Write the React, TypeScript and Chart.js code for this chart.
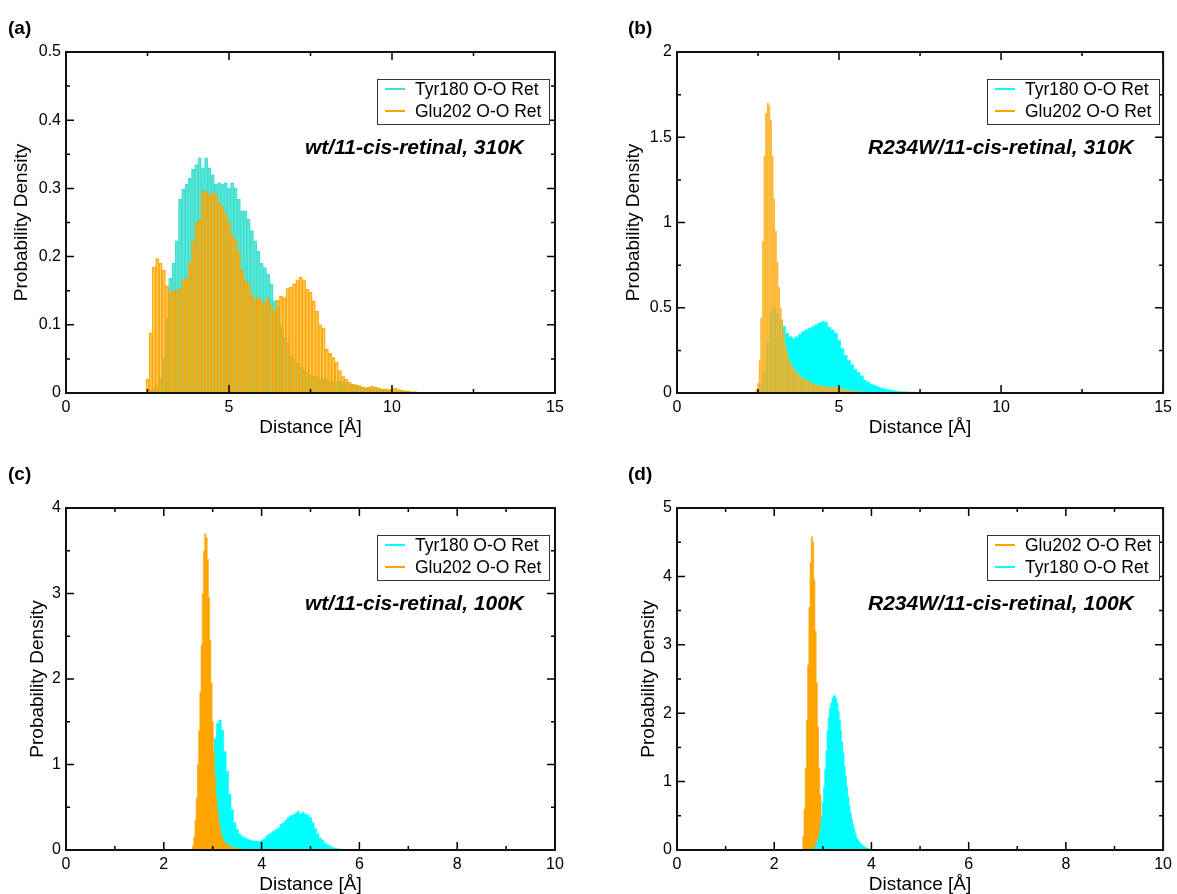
import React, { useEffect, useRef } from "react";
import { Chart, registerables } from "chart.js";

Chart.register(...registerables);

const FONT = '"Liberation Sans", Arial, Helvetica, sans-serif';
const TURQ = "#40E0D0";
const CYAN = "#00FFFF";
const ORANGE = "#FFA500";

const TYR = "Tyr180 O-O Ret";
const GLU = "Glu202 O-O Ret";
const X_TITLE = "Distance [Å]";
const Y_TITLE = "Probability Density";

// ---------- Panel (a): wt/11-cis-retinal, 310K (bins of 0.1 Å) ----------
const aTyrStart = 2.5;
const aTyrStep = 0.1;
const aTyr = [
  0.002, 0.004, 0.007, 0.012, 0.022, 0.05, 0.11, 0.168, 0.19, 0.223,
  0.284, 0.299, 0.306, 0.315, 0.328, 0.335, 0.345, 0.33, 0.345, 0.33,
  0.32, 0.306, 0.308, 0.306, 0.308, 0.301, 0.308, 0.301, 0.284, 0.267,
  0.267, 0.255, 0.238, 0.223, 0.208, 0.19, 0.184, 0.174, 0.16, 0.135,
  0.127, 0.1, 0.08, 0.073, 0.055, 0.05, 0.044, 0.038, 0.034, 0.03,
  0.026, 0.024, 0.024, 0.022, 0.022, 0.02, 0.018, 0.017, 0.016, 0.017,
  0.016, 0.014, 0.012, 0.012, 0.011, 0.01, 0.008, 0.007, 0.007, 0.006,
  0.005, 0.005, 0.004, 0.004, 0.004, 0.003, 0.002, 0.002, 0.002, 0.002,
  0.002, 0.001, 0.001, 0.001, 0.001, 0.001,
];
const aGluStart = 2.5;
const aGluStep = 0.1;
const aGlu = [
  0.02, 0.088, 0.185, 0.197, 0.19, 0.18, 0.157, 0.147, 0.15, 0.15,
  0.152, 0.166, 0.168, 0.19, 0.222, 0.25, 0.254, 0.296, 0.294, 0.291,
  0.293, 0.291, 0.279, 0.273, 0.263, 0.25, 0.232, 0.225, 0.207, 0.18,
  0.165, 0.16, 0.145, 0.137, 0.14, 0.136, 0.132, 0.138, 0.128, 0.12,
  0.136, 0.142, 0.14, 0.153, 0.155, 0.16, 0.166, 0.17, 0.166, 0.152,
  0.148, 0.135, 0.12, 0.1, 0.095, 0.064, 0.058, 0.052, 0.045, 0.033,
  0.024, 0.02, 0.016, 0.013, 0.012, 0.011, 0.009, 0.008, 0.009, 0.01,
  0.009, 0.007, 0.006, 0.006, 0.005, 0.006, 0.007, 0.005, 0.004, 0.003,
  0.003, 0.002, 0.002, 0.001, 0.001, 0.001, 0.001, 0.001,
];

// ---------- Panel (b): R234W/11-cis-retinal, 310K ----------
const bTyrStart = 2.5;
const bTyrStep = 0.1;
const bTyr = [
  0.01, 0.05, 0.12, 0.3, 0.47, 0.5, 0.47, 0.43, 0.39, 0.35,
  0.33, 0.32, 0.33, 0.345, 0.36, 0.37, 0.38, 0.39, 0.4, 0.41,
  0.42, 0.415, 0.385, 0.37, 0.35, 0.31, 0.26, 0.22, 0.19, 0.165,
  0.14, 0.12, 0.1, 0.075, 0.065, 0.05, 0.045, 0.037, 0.03, 0.025,
  0.02, 0.017, 0.013, 0.01, 0.008, 0.007, 0.006, 0.005, 0.004, 0.004,
  0.003, 0.002, 0.002, 0.001,
];
const bGluStart = 2.45;
const bGluStep = 0.05;
const bGlu = [
  0.02, 0.06, 0.19, 0.44, 0.89, 1.39, 1.64, 1.7, 1.69, 1.6,
  1.39, 1.14, 0.95, 0.77, 0.62, 0.5, 0.43, 0.35, 0.28, 0.24,
  0.2, 0.18, 0.16, 0.145, 0.13, 0.12, 0.11, 0.1, 0.09, 0.085,
  0.08, 0.075, 0.07, 0.065, 0.06, 0.055, 0.05, 0.05, 0.045, 0.045,
  0.04, 0.04, 0.04, 0.038, 0.036, 0.035, 0.035, 0.034, 0.033, 0.035,
  0.033, 0.03, 0.028, 0.025, 0.022, 0.02, 0.018, 0.016, 0.015, 0.013,
  0.012, 0.011, 0.01, 0.009, 0.008, 0.007, 0.006, 0.005, 0.005, 0.004,
  0.004, 0.003,
];

// ---------- Panel (c): wt/11-cis-retinal, 100K ----------
const cTyrStart = 2.7;
const cTyrStep = 0.05;
const cTyr = [
  0.03, 0.08, 0.18, 0.32, 0.52, 0.78, 1.05, 1.3, 1.48, 1.52,
  1.4, 1.15, 0.92, 0.65, 0.47, 0.32, 0.24, 0.19, 0.16, 0.145,
  0.13, 0.12, 0.11, 0.105, 0.105, 0.1, 0.11, 0.13, 0.16, 0.18,
  0.2, 0.22, 0.24, 0.26, 0.3, 0.32, 0.35, 0.38, 0.4, 0.41,
  0.43, 0.45, 0.42, 0.44, 0.42, 0.41, 0.38, 0.32, 0.25, 0.19,
  0.14, 0.11, 0.08, 0.06, 0.045, 0.03, 0.022, 0.015, 0.01, 0.005,
  0.002,
];
const cGluStart = 2.575;
const cGluStep = 0.025;
const cGlu = [
  0.01, 0.05, 0.15, 0.35, 0.6, 1.0, 1.4, 1.85, 2.4, 3.0,
  3.5, 3.7, 3.65, 3.4, 2.95, 2.45, 1.95, 1.5, 1.15, 0.85,
  0.62, 0.46, 0.34, 0.25, 0.19, 0.14, 0.11, 0.09, 0.07, 0.06,
  0.05, 0.045, 0.04, 0.035, 0.03, 0.025, 0.02, 0.018, 0.015, 0.012,
  0.01, 0.008, 0.006, 0.004, 0.003, 0.002,
];

// ---------- Panel (d): R234W/11-cis-retinal, 100K ----------
const dGluStart = 2.575;
const dGluStep = 0.025;
const dGlu = [
  0.02, 0.2, 0.6, 1.2, 1.9, 2.7, 3.55, 4.2, 4.58, 4.5,
  3.95, 3.2, 2.45, 1.8, 1.2, 0.8, 0.5, 0.28, 0.15, 0.09,
  0.05, 0.03, 0.02, 0.01, 0.005,
];
const dTyrStart = 2.8;
const dTyrStep = 0.025;
const dTyr = [
  0.01, 0.03, 0.06, 0.1, 0.15, 0.22, 0.32, 0.48, 0.7, 0.92,
  1.17, 1.45, 1.75, 1.95, 2.07, 2.15, 2.22, 2.25, 2.26, 2.22,
  2.15, 2.03, 1.9, 1.75, 1.58, 1.42, 1.22, 1.08, 0.92, 0.78,
  0.65, 0.54, 0.45, 0.37, 0.3, 0.24, 0.18, 0.15, 0.12, 0.1,
  0.08, 0.065, 0.05, 0.04, 0.03, 0.022, 0.016, 0.012, 0.008, 0.005,
  0.003,
];

// ---------- Axis tick settings ----------
const xTicksWide = { max: 15, major: 5, minor: 2.5 };
const xTicksNarrow = { max: 10, major: 2, minor: 1 };

interface Series {
  label: string;
  start: number;
  step: number;
  values: number[];
  fill: string;
  stroke: string;
  border: number;
  legendColor: string;
  solid: boolean; // drawn as filled step outline (no individual bar edges)
}

interface PanelDef {
  tag: string;
  note: string;
  area: { l: number; t: number; r: number; b: number };
  canvas: { x: number; y: number; w: number; h: number };
  xMax: number;
  xMajor: number;
  xMinor: number;
  yMax: number;
  yMajor: number;
  yMinor: number;
  yTitleX: number;
  xTitleY: number;
  tagPos: { x: number; y: number };
  noteX: number;
  baseline?: string;
  series: Series[];
}

const PANELS: PanelDef[] = [
  {
    tag: "(a)",
    note: "wt/11-cis-retinal, 310K",
    area: { l: 66, t: 52, r: 555, b: 393 },
    canvas: { x: 0, y: 30, w: 600, h: 420 },
    xMax: xTicksWide.max, xMajor: xTicksWide.major, xMinor: xTicksWide.minor,
    yMax: 0.5, yMajor: 0.1, yMinor: 0.05,
    yTitleX: 22, xTitleY: 428,
    tagPos: { x: 8, y: 28 },
    noteX: 305,
    baseline: TURQ,
    series: [
      { label: TYR, start: aTyrStart, step: aTyrStep, values: aTyr, fill: "rgba(64,224,208,0.82)", stroke: TURQ, border: 0.7, legendColor: TURQ, solid: false },
      { label: GLU, start: aGluStart, step: aGluStep, values: aGlu, fill: "rgba(255,165,0,0.55)", stroke: "rgba(255,165,0,0.95)", border: 0.7, legendColor: ORANGE, solid: false },
    ],
  },
  {
    tag: "(b)",
    note: "R234W/11-cis-retinal, 310K",
    area: { l: 677, t: 52, r: 1165, b: 393 },
    canvas: { x: 600, y: 30, w: 577, h: 420 },
    xMax: xTicksWide.max, xMajor: xTicksWide.major, xMinor: xTicksWide.minor,
    yMax: 2, yMajor: 0.5, yMinor: 0.25,
    yTitleX: 634, xTitleY: 428,
    tagPos: { x: 628, y: 28 },
    noteX: 868,
    baseline: CYAN,
    series: [
      { label: TYR, start: bTyrStart, step: bTyrStep, values: bTyr, fill: CYAN, stroke: CYAN, border: 0, legendColor: CYAN, solid: true },
      { label: GLU, start: bGluStart, step: bGluStep, values: bGlu, fill: "rgba(255,165,0,0.72)", stroke: "rgba(255,200,100,0.6)", border: 0.3, legendColor: ORANGE, solid: false },
    ],
  },
  {
    tag: "(c)",
    note: "wt/11-cis-retinal, 100K",
    area: { l: 66, t: 508, r: 555, b: 850 },
    canvas: { x: 0, y: 460, w: 600, h: 450 },
    xMax: xTicksNarrow.max, xMajor: xTicksNarrow.major, xMinor: xTicksNarrow.minor,
    yMax: 4, yMajor: 1, yMinor: 0.5,
    yTitleX: 38, xTitleY: 885,
    tagPos: { x: 8, y: 474 },
    noteX: 305,
    series: [
      { label: TYR, start: cTyrStart, step: cTyrStep, values: cTyr, fill: CYAN, stroke: CYAN, border: 0, legendColor: CYAN, solid: true },
      { label: GLU, start: cGluStart, step: cGluStep, values: cGlu, fill: ORANGE, stroke: ORANGE, border: 0, legendColor: ORANGE, solid: true },
    ],
  },
  {
    tag: "(d)",
    note: "R234W/11-cis-retinal, 100K",
    area: { l: 677, t: 508, r: 1165, b: 850 },
    canvas: { x: 600, y: 460, w: 577, h: 450 },
    xMax: xTicksNarrow.max, xMajor: xTicksNarrow.major, xMinor: xTicksNarrow.minor,
    yMax: 5, yMajor: 1, yMinor: 0.5,
    yTitleX: 649, xTitleY: 885,
    tagPos: { x: 628, y: 474 },
    noteX: 868,
    series: [
      { label: GLU, start: dGluStart, step: dGluStep, values: dGlu, fill: ORANGE, stroke: ORANGE, border: 0, legendColor: ORANGE, solid: true },
      { label: TYR, start: dTyrStart, step: dTyrStep, values: dTyr, fill: CYAN, stroke: CYAN, border: 0, legendColor: CYAN, solid: true },
    ],
  },
];

function fmt(v: any): string {
  return String(Number(Number(v).toFixed(3)));
}

const framePlugin = {
  id: "frameTicks",
  afterDatasetsDraw(chart: any, _args: any, opts: any) {
    const { ctx, chartArea: a } = chart;
    const xs = chart.scales.x;
    const ys = chart.scales.y;
    const isMajor = (v: number, major: number) =>
      Math.abs(v / major - Math.round(v / major)) < 1e-6;
    ctx.save();
    ctx.strokeStyle = "#000";
    ctx.lineWidth = 1.5;
    ctx.beginPath();
    const nx = Math.round(opts.xMax / opts.xMinor);
    for (let i = 0; i <= nx; i++) {
      const v = i * opts.xMinor;
      const len = isMajor(v, opts.xMajor) ? 8 : 4;
      const px = xs.getPixelForValue(v);
      ctx.moveTo(px, a.bottom);
      ctx.lineTo(px, a.bottom - len);
      ctx.moveTo(px, a.top);
      ctx.lineTo(px, a.top + len);
    }
    const ny = Math.round(opts.yMax / opts.yMinor);
    for (let i = 0; i <= ny; i++) {
      const v = i * opts.yMinor;
      const len = isMajor(v, opts.yMajor) ? 8 : 4;
      const py = ys.getPixelForValue(v);
      ctx.moveTo(a.left, py);
      ctx.lineTo(a.left + len, py);
      ctx.moveTo(a.right, py);
      ctx.lineTo(a.right - len, py);
    }
    ctx.stroke();
    ctx.lineWidth = 2;
    ctx.strokeStyle = "#111";
    ctx.strokeRect(a.left, a.top, a.right - a.left, a.bottom - a.top);
    ctx.restore();
  },
};

function PanelChart({ p }: { p: PanelDef }) {
  const ref = useRef<HTMLCanvasElement>(null);
  useEffect(() => {
    const canvas = ref.current;
    if (!canvas) return;
    const c = p.canvas;
    const a = p.area;
    const yW = a.l - c.x;
    const xH = c.y + c.h - a.b;
    const n = p.series.length;
    const pxPerUnit = (a.r - a.l) / p.xMax;
    const tickFont = { family: FONT, size: 16 };
    const titleFont = { family: FONT, size: 19 };

    const datasets: any[] = p.series.map((s, i) => {
      const pts = s.values.map((v, k) => ({ x: Number((s.start + k * s.step).toFixed(4)), y: v }));
      if (s.solid) {
        return {
          type: "line",
          label: s.label,
          data: pts,
          xAxisID: "x",
          yAxisID: "y",
          stepped: "middle",
          fill: "origin",
          backgroundColor: s.fill,
          borderColor: s.fill,
          borderWidth: 0.6,
          pointRadius: 0,
          order: n - i,
        };
      }
      return {
        type: "bar",
        label: s.label,
        data: pts,
        xAxisID: "x",
        yAxisID: "y",
        backgroundColor: s.fill,
        borderColor: s.stroke,
        borderWidth: s.border,
        borderSkipped: "start",
        grouped: false,
        barThickness: s.step * pxPerUnit,
        barPercentage: 1,
        categoryPercentage: 1,
        order: n - i,
      };
    });
    if (p.baseline) {
      datasets.push({
        type: "line",
        label: "baseline",
        data: [
          { x: 0, y: 0 },
          { x: p.xMax, y: 0 },
        ],
        xAxisID: "x",
        yAxisID: "y",
        borderColor: p.baseline,
        borderWidth: 1.5,
        pointRadius: 0,
        fill: false,
        order: 100,
      });
    }

    const scales: any = {
      x: {
        type: "linear",
        position: "bottom",
        min: 0,
        max: p.xMax,
        offset: false,
        afterFit: (s: any) => {
          s.height = xH;
        },
        grid: { display: false, drawTicks: false, offset: false },
        border: { display: false },
        ticks: {
          stepSize: p.xMajor,
          padding: 5,
          maxRotation: 0,
          autoSkip: false,
          color: "#000",
          font: tickFont,
          callback: (v: any) => fmt(v),
        },
        title: {
          display: true,
          text: X_TITLE,
          color: "#000",
          font: titleFont,
          padding: { top: 0, bottom: c.y + c.h - p.xTitleY - 11.4 },
        },
      },
      y: {
        type: "linear",
        position: "left",
        min: 0,
        max: p.yMax,
        afterFit: (s: any) => {
          s.width = yW;
        },
        grid: { display: false, drawTicks: false },
        border: { display: false },
        ticks: {
          stepSize: p.yMajor,
          padding: 5,
          color: "#000",
          font: tickFont,
          callback: (v: any) => fmt(v),
        },
        title: {
          display: true,
          text: Y_TITLE,
          color: "#000",
          font: titleFont,
          padding: { top: p.yTitleX - c.x - 11.4, bottom: 0 },
        },
      },
    };

    const chart = new Chart(canvas, {
      type: "bar",
      data: { datasets },
      options: {
        responsive: false,
        animation: false,
        devicePixelRatio: 1,
        events: [],
        layout: {
          padding: { left: 0, top: a.t - c.y, right: c.x + c.w - a.r, bottom: 0 },
        },
        scales,
        plugins: {
          legend: { display: false },
          tooltip: { enabled: false },
          filler: { propagate: false },
          frameTicks: {
            xMax: p.xMax,
            xMajor: p.xMajor,
            xMinor: p.xMinor,
            yMax: p.yMax,
            yMajor: p.yMajor,
            yMinor: p.yMinor,
          },
        } as any,
      },
      plugins: [framePlugin as any],
    } as any);
    return () => chart.destroy();
  }, [p]);

  const c = p.canvas;
  return (
    <canvas
      ref={ref}
      width={c.w}
      height={c.h}
      style={{ position: "absolute", left: c.x, top: c.y, width: c.w, height: c.h }}
    />
  );
}

function Overlay({ p }: { p: PanelDef }) {
  const a = p.area;
  const boxW = 173;
  const boxRight = a.r - 5;
  const boxLeft = boxRight - boxW;
  const boxTop = a.t + 27;
  return (
    <>
      <div
        style={{
          position: "absolute",
          left: p.tagPos.x,
          top: p.tagPos.y - 10,
          fontFamily: FONT,
          fontWeight: "bold",
          fontSize: 19,
          lineHeight: "20px",
          whiteSpace: "nowrap",
          color: "#000",
        }}
      >
        {p.tag}
      </div>
      <div
        style={{
          position: "absolute",
          left: boxLeft,
          top: boxTop,
          width: boxW,
          height: 46,
          border: "1px solid #333",
          boxSizing: "border-box",
          background: "#fff",
        }}
      />
      {p.series.map((s, i) => {
        const cy = a.t + 37 + i * 22;
        return (
          <React.Fragment key={i}>
            <div
              style={{
                position: "absolute",
                left: boxLeft + 8,
                top: cy - 1,
                width: 20,
                height: 2,
                background: s.legendColor,
              }}
            />
            <div
              style={{
                position: "absolute",
                left: boxLeft + 38,
                top: cy - 9,
                fontFamily: FONT,
                fontSize: 17.5,
                lineHeight: "18px",
                whiteSpace: "nowrap",
                color: "#000",
              }}
            >
              {s.label}
            </div>
          </React.Fragment>
        );
      })}
      <div
        style={{
          position: "absolute",
          left: p.noteX,
          top: a.t + 95 - 11,
          fontFamily: FONT,
          fontWeight: "bold",
          fontStyle: "italic",
          fontSize: 21,
          lineHeight: "22px",
          whiteSpace: "nowrap",
          color: "#000",
        }}
      >
        {p.note}
      </div>
    </>
  );
}

export default function App() {
  return (
    <div
      style={{
        position: "absolute",
        left: 0,
        top: 0,
        width: 1177,
        height: 894,
        overflow: "hidden",
        background: "#fff",
      }}
    >
      {PANELS.map((p) => (
        <React.Fragment key={p.tag}>
          <PanelChart p={p} />
          <Overlay p={p} />
        </React.Fragment>
      ))}
    </div>
  );
}
